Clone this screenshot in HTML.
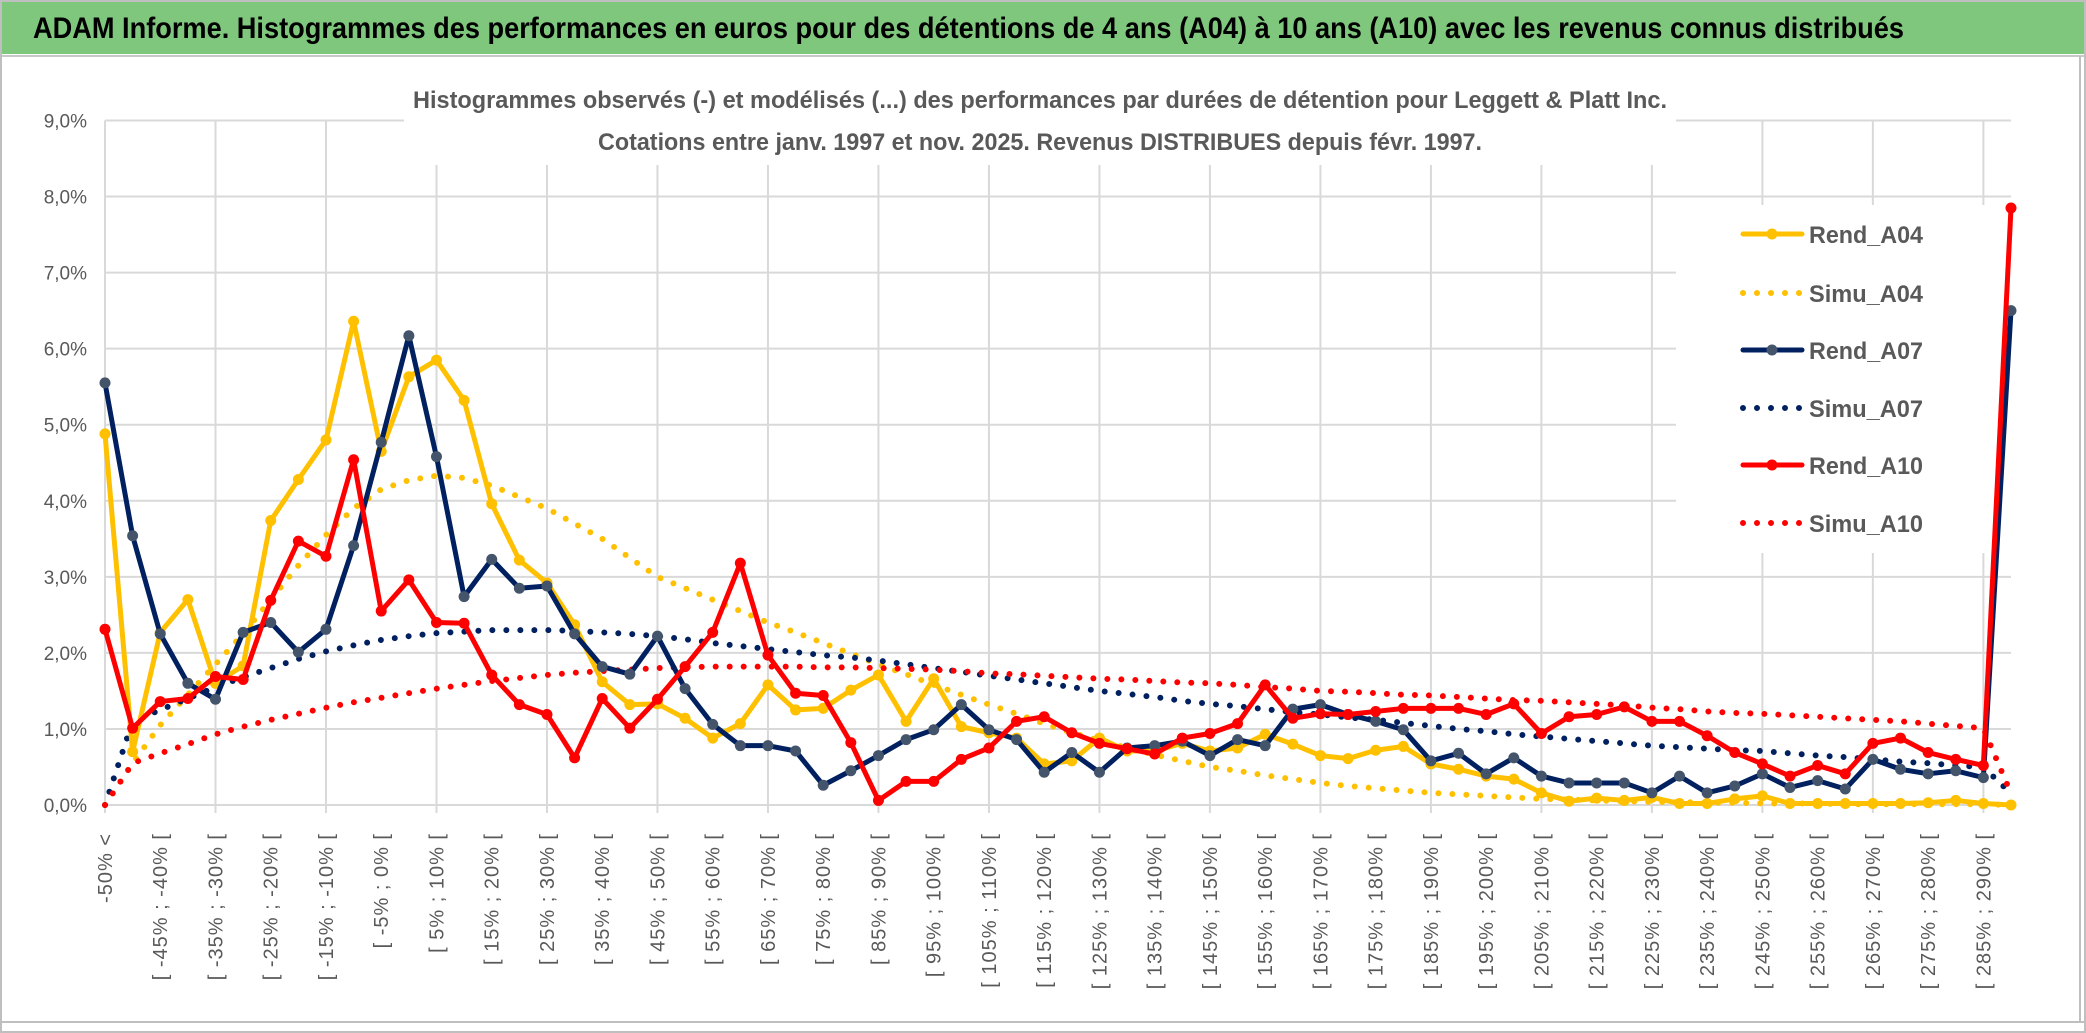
<!DOCTYPE html>
<html><head><meta charset="utf-8"><style>
html,body{margin:0;padding:0;background:#fff;}
svg{display:block;font-family:"Liberation Sans",sans-serif;}
</style></head><body>
<svg id="chart" width="2086" height="1033" viewBox="0 0 2086 1033" xmlns="http://www.w3.org/2000/svg">
<rect x="0" y="0" width="2086" height="1033" fill="#fff"/>
<rect x="1" y="1" width="2084" height="53" fill="#80C77E"/>
<text x="33" y="38" font-size="30" font-weight="bold" fill="#000" textLength="1871" lengthAdjust="spacingAndGlyphs">ADAM Informe. Histogrammes des performances en euros pour des détentions de 4 ans (A04) à 10 ans (A10) avec les revenus connus distribués</text>
<line x1="0" y1="56" x2="2086" y2="56" stroke="#C8C8C8" stroke-width="2"/>
<rect x="1" y="1" width="2084" height="1031" fill="none" stroke="#BFBFBF" stroke-width="2"/>
<line x1="2080" y1="56" x2="2080" y2="1022" stroke="#BFBFBF" stroke-width="2"/>
<line x1="0" y1="1022" x2="2086" y2="1022" stroke="#BFBFBF" stroke-width="2"/>
<g id="grid"></g>
<rect x="404" y="70" width="1272" height="95" fill="#fff"/>
<text x="413" y="108" font-size="24" font-weight="bold" fill="#595959" textLength="1254" lengthAdjust="spacingAndGlyphs">Histogrammes observés (-) et modélisés (...) des performances par durées de détention pour Leggett &amp; Platt Inc.</text>
<text x="598" y="150" font-size="24" font-weight="bold" fill="#595959" textLength="884" lengthAdjust="spacingAndGlyphs">Cotations entre janv. 1997 et nov. 2025. Revenus DISTRIBUES depuis févr. 1997.</text>
<g id="ylabels"></g>
<g id="xlabels"></g>
<rect x="1676" y="205" width="336" height="348" fill="#fff"/>
<g id="series"></g>
<g id="legend"></g>
</svg>
<script>
const categories = ["-50% <","[ -50% ; -45% [","[ -45% ; -40% [","[ -40% ; -35% [","[ -35% ; -30% [","[ -30% ; -25% [","[ -25% ; -20% [","[ -20% ; -15% [","[ -15% ; -10% [","[ -10% ; -5% [","[ -5% ; 0% [","[ 0% ; 5% [","[ 5% ; 10% [","[ 10% ; 15% [","[ 15% ; 20% [","[ 20% ; 25% [","[ 25% ; 30% [","[ 30% ; 35% [","[ 35% ; 40% [","[ 40% ; 45% [","[ 45% ; 50% [","[ 50% ; 55% [","[ 55% ; 60% [","[ 60% ; 65% [","[ 65% ; 70% [","[ 70% ; 75% [","[ 75% ; 80% [","[ 80% ; 85% [","[ 85% ; 90% [","[ 90% ; 95% [","[ 95% ; 100% [","[ 100% ; 105% [","[ 105% ; 110% [","[ 110% ; 115% [","[ 115% ; 120% [","[ 120% ; 125% [","[ 125% ; 130% [","[ 130% ; 135% [","[ 135% ; 140% [","[ 140% ; 145% [","[ 145% ; 150% [","[ 150% ; 155% [","[ 155% ; 160% [","[ 160% ; 165% [","[ 165% ; 170% [","[ 170% ; 175% [","[ 175% ; 180% [","[ 180% ; 185% [","[ 185% ; 190% [","[ 190% ; 195% [","[ 195% ; 200% [","[ 200% ; 205% [","[ 205% ; 210% [","[ 210% ; 215% [","[ 215% ; 220% [","[ 220% ; 225% [","[ 225% ; 230% [","[ 230% ; 235% [","[ 235% ; 240% [","[ 240% ; 245% [","[ 245% ; 250% [","[ 250% ; 255% [","[ 255% ; 260% [","[ 260% ; 265% [","[ 265% ; 270% [","[ 270% ; 275% [","[ 275% ; 280% [","[ 280% ; 285% [","[ 285% ; 290% [","[ 290% ; 295% ["];
const yTicks = [0,1,2,3,4,5,6,7,8,9];
const yTickLabels = ["0,0%","1,0%","2,0%","3,0%","4,0%","5,0%","6,0%","7,0%","8,0%","9,0%"];
const rendA04 = [4.88,0.7,2.27,2.7,1.6,1.83,3.74,4.28,4.8,6.36,4.65,5.63,5.85,5.32,3.96,3.22,2.92,2.37,1.62,1.32,1.33,1.14,0.88,1.07,1.58,1.25,1.27,1.51,1.71,1.1,1.66,1.03,0.95,0.88,0.54,0.58,0.88,0.71,0.71,0.81,0.71,0.75,0.93,0.8,0.65,0.61,0.72,0.77,0.54,0.47,0.38,0.34,0.16,0.05,0.09,0.06,0.1,0.02,0.02,0.08,0.12,0.02,0.02,0.02,0.02,0.02,0.03,0.06,0.02,0.0];
const simuA04 = [0.0,0.55,1.05,1.45,1.85,2.25,2.7,3.15,3.55,3.9,4.15,4.27,4.33,4.3,4.2,4.05,3.9,3.7,3.5,3.25,3.0,2.85,2.7,2.55,2.4,2.27,2.13,1.99,1.85,1.72,1.58,1.45,1.32,1.2,1.07,0.95,0.85,0.75,0.66,0.58,0.5,0.45,0.39,0.34,0.29,0.25,0.22,0.19,0.16,0.14,0.12,0.1,0.08,0.07,0.06,0.05,0.04,0.04,0.03,0.03,0.02,0.02,0.02,0.01,0.01,0.01,0.01,0.01,0.01,0.0];
const rendA07 = [5.55,3.54,2.25,1.6,1.39,2.27,2.4,2.01,2.31,3.41,4.77,6.17,4.58,2.74,3.23,2.85,2.88,2.25,1.82,1.72,2.22,1.53,1.06,0.78,0.78,0.71,0.26,0.45,0.65,0.86,0.99,1.32,0.99,0.86,0.43,0.69,0.43,0.75,0.78,0.84,0.65,0.86,0.78,1.26,1.32,1.19,1.1,0.99,0.58,0.68,0.41,0.62,0.38,0.29,0.29,0.29,0.16,0.38,0.16,0.25,0.41,0.23,0.32,0.21,0.6,0.47,0.41,0.45,0.36,6.5];
const simuA07 = [0.0,1.1,1.25,1.4,1.55,1.68,1.8,1.92,2.02,2.1,2.17,2.22,2.26,2.28,2.3,2.3,2.3,2.29,2.27,2.25,2.22,2.18,2.13,2.09,2.05,2.01,1.97,1.94,1.9,1.85,1.8,1.75,1.7,1.65,1.6,1.55,1.5,1.46,1.42,1.37,1.33,1.3,1.26,1.22,1.19,1.15,1.12,1.08,1.04,1.0,0.97,0.93,0.9,0.87,0.84,0.81,0.78,0.76,0.74,0.72,0.71,0.68,0.65,0.63,0.6,0.57,0.55,0.52,0.5,0.15];
const rendA10 = [2.31,1.01,1.36,1.4,1.69,1.65,2.69,3.47,3.27,4.54,2.55,2.96,2.4,2.39,1.71,1.32,1.19,0.62,1.4,1.01,1.39,1.82,2.27,3.18,1.97,1.47,1.44,0.82,0.06,0.31,0.31,0.6,0.75,1.1,1.16,0.95,0.81,0.74,0.67,0.88,0.94,1.07,1.58,1.14,1.2,1.19,1.23,1.27,1.27,1.27,1.19,1.33,0.94,1.16,1.19,1.29,1.1,1.1,0.91,0.69,0.54,0.38,0.52,0.41,0.81,0.88,0.69,0.6,0.52,7.85];
const simuA10 = [0.0,0.55,0.68,0.8,0.93,1.03,1.12,1.2,1.28,1.35,1.41,1.47,1.53,1.58,1.63,1.67,1.71,1.74,1.76,1.78,1.8,1.81,1.82,1.82,1.82,1.82,1.81,1.81,1.8,1.79,1.78,1.76,1.73,1.72,1.7,1.68,1.66,1.65,1.63,1.61,1.6,1.58,1.55,1.53,1.5,1.49,1.47,1.45,1.44,1.42,1.4,1.38,1.37,1.35,1.33,1.31,1.28,1.26,1.23,1.21,1.2,1.18,1.16,1.14,1.12,1.1,1.07,1.04,1.01,0.15];

const NS = "http://www.w3.org/2000/svg";
const X0 = 105, X1 = 2011, Y0 = 805, Y9 = 120.5;
function xPos(i){ return X0 + i * (X1 - X0) / (categories.length - 1); }
function yPos(v){ return Y0 - v * (Y0 - Y9) / 9; }
function mk(tag, parent){ const e = document.createElementNS(NS, tag); parent.appendChild(e); return e; }

const grid = document.getElementById('grid');
yTicks.forEach(function(t){
  const l = mk('line', grid);
  
  
  l.setAttribute('x1', X0); l.setAttribute('x2', X1);
  l.setAttribute('y1', yPos(t)); l.setAttribute('y2', yPos(t));
  l.setAttribute('stroke', '#D9D9D9'); l.setAttribute('stroke-width', '2');
});
categories.forEach(function(c, i){
  if (i % 4 !== 0) return;
  const l = mk('line', grid);
  
  
  l.setAttribute('x1', xPos(i)); l.setAttribute('x2', xPos(i));
  l.setAttribute('y1', Y9); l.setAttribute('y2', Y0 + 8);
  l.setAttribute('stroke', '#D9D9D9'); l.setAttribute('stroke-width', '2');
});

const yl = document.getElementById('ylabels');
yTicks.forEach(function(t, k){
  const tx = mk('text', yl);
  
  
  tx.setAttribute('x', 87); tx.setAttribute('y', yPos(t) + 7);
  tx.setAttribute('text-anchor', 'end'); tx.setAttribute('font-size', '19');
  tx.setAttribute('fill', '#595959');
  tx.textContent = yTickLabels[k];
});

const xl = document.getElementById('xlabels');
categories.forEach(function(c, i){
  if (i % 2 !== 0) return;
  const tx = mk('text', xl);
  
  
  const x = xPos(i) + 7, y = 833;
  tx.setAttribute('x', x); tx.setAttribute('y', y);
  tx.setAttribute('transform', 'rotate(-90 ' + x + ' ' + y + ')');
  tx.setAttribute('text-anchor', 'end'); tx.setAttribute('font-size', '20');
  tx.setAttribute('letter-spacing', '1'); tx.setAttribute('fill', '#595959');
  tx.textContent = c;
});

const series = document.getElementById('series');
function drawDotted(vals, color, name){
  const p = mk('polyline', series);
  
  
  p.setAttribute('points', vals.map(function(v, i){ return xPos(i) + ',' + yPos(v); }).join(' '));
  p.setAttribute('fill', 'none'); p.setAttribute('stroke', color);
  p.setAttribute('stroke-width', '6'); p.setAttribute('stroke-linecap', 'round');
  p.setAttribute('stroke-dasharray', '0 14');
}
function drawSolid(vals, color, markerColor, name){
  const p = mk('polyline', series);
  
  
  p.setAttribute('points', vals.map(function(v, i){ return xPos(i) + ',' + yPos(v); }).join(' '));
  p.setAttribute('fill', 'none'); p.setAttribute('stroke', color);
  p.setAttribute('stroke-width', '5'); p.setAttribute('stroke-linejoin', 'round');
  vals.forEach(function(v, i){
    const c = mk('circle', series);
    
    
    c.setAttribute('cx', xPos(i)); c.setAttribute('cy', yPos(v)); c.setAttribute('r', '5.5');
    c.setAttribute('fill', markerColor);
  });
}
drawDotted(simuA04, '#FFC000', 'simu-a04-line');
drawDotted(simuA07, '#002060', 'simu-a07-line');
drawDotted(simuA10, '#FF0000', 'simu-a10-line');
drawSolid(rendA04, '#FFC000', '#FFC000', 'rend-a04-line');
drawSolid(rendA07, '#002060', '#44546A', 'rend-a07-line');
drawSolid(rendA10, '#FF0000', '#FF0000', 'rend-a10-line');

const legendNames = ['Rend_A04','Simu_A04','Rend_A07','Simu_A07','Rend_A10','Simu_A10'];
const legendColors = ['#FFC000','#FFC000','#002060','#002060','#FF0000','#FF0000'];
const legendY = [234,293,350,408,465,523];
const lg = document.getElementById('legend');
legendNames.forEach(function(n, k){
  const y = legendY[k];
  const l = mk('line', lg);
  
  
  l.setAttribute('x1', 1743); l.setAttribute('x2', 1802);
  l.setAttribute('y1', y); l.setAttribute('y2', y);
  l.setAttribute('stroke', legendColors[k]); l.setAttribute('stroke-linecap', 'round');
  if (k % 2 === 1) {
    l.setAttribute('stroke-width', '6'); l.setAttribute('stroke-dasharray', '0 14');
  } else {
    l.setAttribute('stroke-width', '5');
    const c = mk('circle', lg);
    
    
    c.setAttribute('cx', 1772); c.setAttribute('cy', y); c.setAttribute('r', '5.5');
    c.setAttribute('fill', k === 2 ? '#44546A' : legendColors[k]);
  }
  const t = mk('text', lg);
  
  
  t.setAttribute('x', 1809); t.setAttribute('y', y + 9);
  t.setAttribute('font-size', '24'); t.setAttribute('font-weight', 'bold');
  t.setAttribute('fill', '#595959');
  t.setAttribute('textLength', '114'); t.setAttribute('lengthAdjust', 'spacingAndGlyphs');
  t.textContent = n;
});
</script>
</body></html>
